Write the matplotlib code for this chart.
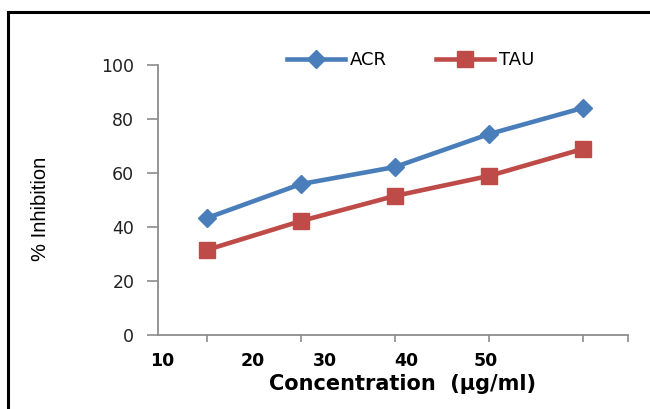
import numpy as np
import matplotlib.pyplot as plt
from matplotlib.lines import Line2D

conc_labels = ["10", "20", "30", "40", "50"]
acr = [43.3, 55.9, 62.2, 74.4, 84.1]
tau = [31.5, 42.2, 51.5, 58.9, 68.9]

# where the concentration labels sit along the axis (category units)
label_pos = [-0.47, 0.49, 1.26, 2.12, 2.97]

fig = plt.figure(figsize=(6.5, 4.09), dpi=100)
ax = fig.add_axes([0.243, 0.181, 0.723, 0.66])

x = np.arange(len(acr))
ax.plot(x, acr, color="#4A7EBB", lw=3.3, marker="D", ms=9.5, label="ACR")
ax.plot(x, tau, color="#BE4B48", lw=3.3, marker="s", ms=11, label="TAU")

ax.set_xlim(-0.52, 4.48)
ax.set_ylim(0, 100)
ax.set_yticks(np.arange(0, 101, 20))
ax.set_xticks([0, 1, 2, 3, 4, 4.48])
ax.set_xticklabels([])
for s in ["top", "right"]:
    ax.spines[s].set_visible(False)
for s in ["left", "bottom"]:
    ax.spines[s].set_color("#8c8c8c")
    ax.spines[s].set_linewidth(1.3)
ax.tick_params(axis="y", length=8, width=1.2, color="#8c8c8c", labelsize=12.5,
               labelcolor="#222222", pad=9)
ax.tick_params(axis="x", length=5, width=1.2, color="#8c8c8c")

for p, lab in zip(label_pos, conc_labels):
    ax.text(p, -9.5, lab, ha="center", va="center", fontsize=12.5,
            fontweight="bold", transform=ax.transData)

ax.text(0.52, -0.18, "Concentration  (\u00b5g/ml)", ha="center", va="center",
        fontsize=15, fontweight="bold", transform=ax.transAxes)
fig.text(0.063, 0.49, "% Inhibition", rotation=90, ha="center", va="center",
         fontsize=14.5, family="Liberation Sans")

leg = fig.legend(loc="center", bbox_to_anchor=(0.632, 0.853), ncol=2, frameon=False,
                 fontsize=13, handlelength=3.2, columnspacing=2.7, handletextpad=0.3)

# outer chart border (left and top edges)
fig.add_artist(Line2D([0.0125, 0.0125], [0, 0.971], color="black", lw=2.2))
fig.add_artist(Line2D([0.0125, 1.0], [0.971, 0.971], color="black", lw=2.2))

fig.savefig("out.png", dpi=100)
